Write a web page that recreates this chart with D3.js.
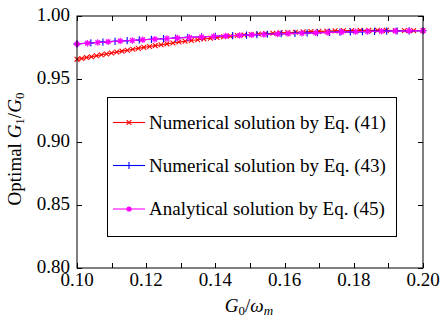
<!DOCTYPE html>
<html>
<head>
<meta charset="utf-8">
<script src="https://cdn.jsdelivr.net/npm/d3@7"></script>
<style>
html,body{margin:0;padding:0;background:#fff;}
svg text{font-family:"Liberation Serif","Times New Roman",serif;fill:#000;}
</style>
</head>
<body>
<svg id="chart" width="442" height="322"></svg>
<script>
// ---- data ----
const xTicks = [0.10, 0.12, 0.14, 0.16, 0.18, 0.20];
const xMinorTicks = [0.10,0.11,0.12,0.13,0.14,0.15,0.16,0.17,0.18,0.19,0.20];
const yTicks = [0.80, 0.85, 0.90, 0.95, 1.00];

const seriesNames = ["Numerical solution by Eq. (41)", "Numerical solution by Eq. (43)", "Analytical solution by Eq. (45)"];

const redX = [0.1000,0.10137,0.10276,0.10416,0.10559,0.10703,0.10850,0.10998,0.11149,0.11301,
  0.11456,0.11613,0.11772,0.11933,0.12096,0.12261,0.12429,0.12599,0.12772,0.12946,
  0.13123,0.13303,0.13485,0.13670,0.13857,0.14047,0.14239,0.14434,0.14631,0.14831,
  0.15034,0.15240,0.15449,0.15660,0.15874,0.16092,0.16312,0.16535,0.16761,0.16991,
  0.17223,0.17459,0.17698,0.17940,0.18185,0.18434,0.18686,0.18942,0.19201,0.19463,
  0.19730,0.20000];
const redY = [0.9656,0.9663,0.9670,0.9677,0.9684,0.9692,0.9699,0.9706,0.9714,0.9721,
  0.9728,0.9736,0.9743,0.9751,0.9758,0.9765,0.9772,0.9779,0.9786,0.9793,
  0.9799,0.9806,0.9812,0.9818,0.9824,0.9830,0.9835,0.9840,0.9845,0.9849,
  0.9853,0.9857,0.9860,0.9863,0.9866,0.9869,0.9871,0.9874,0.9876,0.9878,
  0.9880,0.9882,0.9884,0.9885,0.9886,0.9886,0.9886,0.9886,0.9885,0.9885,
  0.9884,0.9884];

const blueX = [0.1000,0.1040,0.1075,0.1110,0.1145,0.1180,0.1215,0.1250,0.1285,0.1320,
  0.1360,0.1400,0.1450,0.1490,0.1520,0.1550,0.1590,0.1630,0.1665,0.1695,
  0.1730,0.1760,0.1790,0.1825,0.1860,0.1895,0.1925,0.1960,0.2000];
const blueY = [0.9779,0.9787,0.9793,0.9799,0.9804,0.9810,0.9815,0.9820,0.9825,0.9830,
  0.9835,0.9839,0.9845,0.9849,0.9852,0.9855,0.9859,0.9862,0.9865,0.9867,
  0.9870,0.9872,0.9874,0.9876,0.9878,0.9880,0.9881,0.9882,0.9883];

const magX = [0.100,0.103,0.106,0.109,0.1125,0.116,0.119,0.1225,0.126,0.129,
  0.1325,0.136,0.1395,0.143,0.147,0.1505,0.154,0.158,0.161,0.165,
  0.169,0.1725,0.1765,0.1805,0.184,0.188,0.192,0.196,0.200];
const magY = [0.9778,0.9784,0.9790,0.9795,0.9801,0.9806,0.9811,0.9816,0.9821,0.9825,
  0.9830,0.9834,0.9838,0.9842,0.9846,0.9850,0.9853,0.9857,0.9860,0.9863,
  0.9866,0.9869,0.9872,0.9875,0.9877,0.9879,0.9881,0.9882,0.9883];

// ---- layout ----
const svg = d3.select("#chart");
const L = 77, R = 423, T = 16, B = 268;
const x = d3.scaleLinear().domain([0.10, 0.20]).range([L, R]);
const y = d3.scaleLinear().domain([0.80, 1.00]).range([B, T]);
const fs = 19;

const series = [
  {name: seriesNames[0], color: "#ff0000", marker: "x", xs: redX, ys: redY},
  {name: seriesNames[1], color: "#0000ff", marker: "+", xs: blueX, ys: blueY},
  {name: seriesNames[2], color: "#ff00ff", marker: "*", xs: magX, ys: magY}
];

function drawMarker(g, type, cx, cy, color, legend) {
  if (type === "x") {
    const s = 2.4;
    g.append("path").attr("d", `M${cx-s},${cy-s}L${cx+s},${cy+s}M${cx-s},${cy+s}L${cx+s},${cy-s}`)
      .attr("stroke", color).attr("stroke-width", 1.1).attr("fill", "none");
  } else if (type === "+") {
    const s = 3.6;
    g.append("path").attr("d", `M${cx-s},${cy}L${cx+s},${cy}M${cx},${cy-s}L${cx},${cy+s}`)
      .attr("stroke", color).attr("stroke-width", 1.1).attr("fill", "none");
  } else {
    if (legend) {
      g.append("circle").attr("cx", cx).attr("cy", cy).attr("r", 2.6).attr("fill", color);
    } else {
      const s = 3.2, d = 2.3;
      g.append("path").attr("d", `M${cx-s},${cy}L${cx+s},${cy}M${cx},${cy-s}L${cx},${cy+s}M${cx-d},${cy-d}L${cx+d},${cy+d}M${cx-d},${cy+d}L${cx+d},${cy-d}`)
        .attr("stroke", color).attr("stroke-width", 1.2).attr("fill", "none");
      g.append("circle").attr("cx", cx).attr("cy", cy).attr("r", 1.6).attr("fill", color);
    }
  }
}

// ---- series ----
const plot = svg.append("g");
const line = d3.line().x(d => x(d[0])).y(d => y(d[1]));
series.forEach(s => {
  const pts = s.xs.map((v, i) => [v, s.ys[i]]);
  plot.append("path").datum(pts).attr("d", line)
    .attr("fill", "none").attr("stroke", s.color).attr("stroke-width", 1.1);
  pts.forEach(p => drawMarker(plot, s.marker, x(p[0]), y(p[1]), s.color, false));
});

// ---- frame & ticks ----
const ax = svg.append("g");
ax.append("rect").attr("x", L).attr("y", T).attr("width", R - L).attr("height", B - T)
  .attr("fill", "none").attr("stroke", "#000").attr("stroke-width", 1);
const tl = 5;
xMinorTicks.forEach(t => {
  const px = Math.round(x(t)) + 0.5;
  ax.append("line").attr("x1", px).attr("x2", px).attr("y1", B).attr("y2", B - tl).attr("stroke", "#000");
  ax.append("line").attr("x1", px).attr("x2", px).attr("y1", T).attr("y2", T + tl).attr("stroke", "#000");
});
yTicks.forEach(t => {
  const py = Math.round(y(t)) + 0.5;
  ax.append("line").attr("x1", L).attr("x2", L + tl).attr("y1", py).attr("y2", py).attr("stroke", "#000");
  ax.append("line").attr("x1", R).attr("x2", R - tl).attr("y1", py).attr("y2", py).attr("stroke", "#000");
});
xTicks.forEach(t => {
  ax.append("text").attr("x", x(t)).attr("y", 286).attr("text-anchor", "middle")
    .attr("font-size", fs).text(t.toFixed(2));
});
yTicks.forEach(t => {
  ax.append("text").attr("x", 70).attr("y", y(t) + 5).attr("text-anchor", "end")
    .attr("font-size", fs).text(t.toFixed(2));
});

// ---- axis labels ----
const xl = svg.append("text").attr("x", 249).attr("y", 312).attr("text-anchor", "middle").attr("font-size", fs);
xl.append("tspan").attr("font-style", "italic").text("G");
xl.append("tspan").attr("font-size", 13).attr("dy", 3).text("0");
xl.append("tspan").attr("dy", -3).text("/");
xl.append("tspan").attr("font-style", "italic").text("ω");
xl.append("tspan").attr("font-size", 13).attr("font-style", "italic").attr("dy", 3).text("m");

const yl = svg.append("text").attr("transform", "translate(21,149) rotate(-90)")
  .attr("text-anchor", "middle").attr("font-size", fs);
yl.append("tspan").text("Optimal ");
yl.append("tspan").attr("font-style", "italic").text("G");
yl.append("tspan").attr("font-size", 13).attr("dy", 3).text("1");
yl.append("tspan").attr("dy", -3).text("/");
yl.append("tspan").attr("font-style", "italic").text("G");
yl.append("tspan").attr("font-size", 13).attr("dy", 3).text("0");

// ---- legend ----
const lg = svg.append("g");
lg.append("rect").attr("x", 107.5).attr("y", 97.5).attr("width", 289).attr("height", 139)
  .attr("fill", "#fff").attr("stroke", "#000").attr("stroke-width", 1);
const rowsY = [122.5, 165.5, 209];
series.forEach((s, i) => {
  const cy = rowsY[i];
  lg.append("line").attr("x1", 113).attr("x2", 145).attr("y1", cy).attr("y2", cy)
    .attr("stroke", s.color).attr("stroke-width", 1.1);
  drawMarker(lg, s.marker, 129, cy, s.color, true);
  lg.append("text").attr("x", 149).attr("y", cy + 6).attr("font-size", fs).text(s.name);
});
</script>
</body>
</html>
